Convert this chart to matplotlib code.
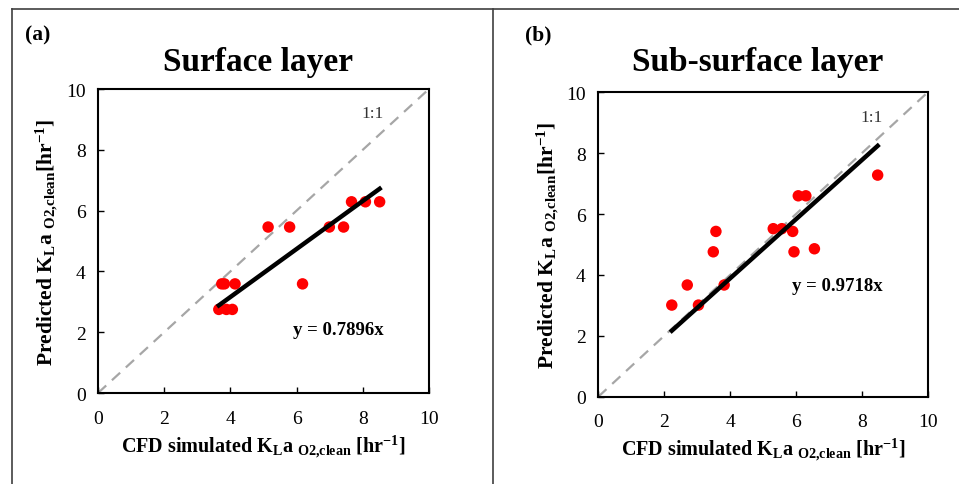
import numpy as np
import matplotlib
matplotlib.use("Agg")
import matplotlib.pyplot as plt
from matplotlib.lines import Line2D

plt.rcParams['font.family'] = 'Liberation Serif'
plt.rcParams['mathtext.fontset'] = 'custom'
plt.rcParams['mathtext.default'] = 'regular'

# Panel (a): surface layer
surf_cfd = [3.65, 3.88, 4.06, 3.74, 3.82, 4.14, 5.14, 5.79, 6.18, 6.99, 7.42, 7.66, 8.08, 8.51]
surf_pred = [2.75, 2.75, 2.75, 3.59, 3.59, 3.59, 5.46, 5.46, 3.59, 5.46, 5.46, 6.29, 6.29, 6.29]
surf_slope = 0.7896

# Panel (b): sub-surface layer
sub_cfd = [2.23, 2.70, 3.04, 3.49, 3.57, 3.82, 5.31, 5.57, 5.90, 5.94, 6.07, 6.30, 6.56, 8.48]
sub_pred = [3.01, 3.67, 3.01, 4.76, 5.43, 3.67, 5.52, 5.52, 5.43, 4.76, 6.60, 6.60, 4.86, 7.28]
sub_slope = 0.9718

panels = [
    ("(a)", "Surface layer", surf_cfd, surf_pred, surf_slope,
     [0.1022, 0.1876, 0.3451, 0.6268], (0.725, 0.21)),
    ("(b)", "Sub-surface layer", sub_cfd, sub_pred, sub_slope,
     [0.6239, 0.1800, 0.3435, 0.6276], (0.725, 0.364)),
]

fig = plt.figure(figsize=(9.59, 4.85), dpi=100)

# outer frame and divider
frame_kw = dict(color='#404040', lw=1.2, transform=fig.transFigure)
fig.add_artist(Line2D([12/959, 12/959], [0, 1 - 10/485], **frame_kw))
fig.add_artist(Line2D([12/959, 1], [1 - 10/485, 1 - 10/485], **frame_kw))
fig.add_artist(Line2D([493/959, 493/959], [0, 1 - 10/485], **frame_kw))

for tag, title, xs, ys, slope, rect, eq_pos in panels:
    ax = fig.add_axes(rect)
    xs = np.array(xs)
    ys = np.array(ys)
    ax.plot([0, 10], [0, 10], ls=(0, (5, 3.5)), color='#a6a6a6', lw=1.6, zorder=1)
    ax.scatter(xs, ys, s=68, color='#ff0000', edgecolors='none', zorder=2)
    xf = np.array([xs.min(), xs.max()])
    ax.plot(xf, slope * xf, color='black', lw=3.2, zorder=3)
    ax.set_xlim(0, 10)
    ax.set_ylim(0, 10)
    ax.set_xticks(range(0, 11, 2))
    ax.set_yticks(range(0, 11, 2))
    ax.tick_params(axis='both', direction='in', length=4, width=1, labelsize=14)
    ax.tick_params(axis='x', pad=12)
    ax.tick_params(axis='y', pad=9)
    for sp in ax.spines.values():
        sp.set_linewidth(1.5)
    ax.text(0.83, 0.92, "1:1", transform=ax.transAxes, ha='center', va='center',
            fontsize=12.5, color='#333333')
    ax.text(eq_pos[0], eq_pos[1], "y = %.4fx" % slope, transform=ax.transAxes,
            ha='center', va='center', fontsize=13.5, fontweight='bold')
    ax.set_xlabel(r"CFD simulated K$_{L}$a $_{O2{,}clean}$ [hr$^{-1}$]",
                  fontsize=14.5, fontweight='bold', labelpad=4)
    ax.set_ylabel(r"Predicted K$_{L}$a $_{O2{,}clean}$[hr$^{-1}$]",
                  fontsize=15.5, fontweight='bold', labelpad=4)
    # panel tag and title
    x0 = rect[0]
    fig.text(x0 - 0.076, 0.926, tag, fontsize=15.5, fontweight='bold', ha='left', va='center')
    fig.text(x0 + rect[2] / 2 - 0.006, 0.872, title, fontsize=24, fontweight='bold',
             ha='center', va='center')

plt.savefig("out.png", dpi=100)
